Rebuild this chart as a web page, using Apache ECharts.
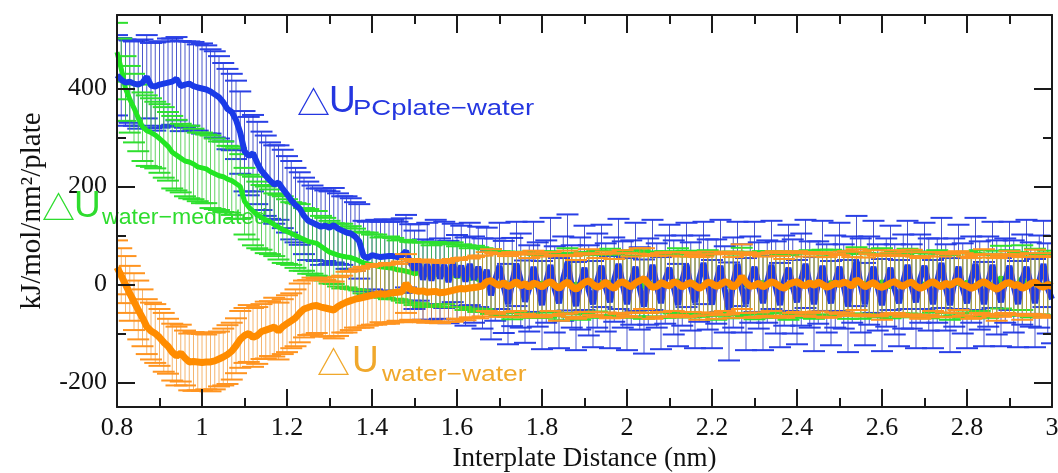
<!DOCTYPE html>
<html>
<head>
<meta charset="utf-8">
<script src="https://cdn.jsdelivr.net/npm/echarts@6/dist/echarts.min.js"></script>
<style>
html,body{margin:0;padding:0;background:#fff;}
#wrap{position:relative;width:1058px;height:473px;}
#chart{position:absolute;left:0;top:0;width:1058px;height:473px;}
#frame{position:absolute;left:0;top:0;width:1058px;height:473px;pointer-events:none;}
</style>
</head>
<body>
<div id="wrap"><div id="chart"></div><div id="frame"></div></div>
<script>
// sample grid: x from 0.80 to 3.00, step 0.01 (221 samples)
const X_START = 0.8;
const X_STEP = 0.01;

// ΔU PCplate-water (blue)
const blueU = [427,418,412,414,410,408,412,424,406,404,
408,410,412,414,420,405,408,410,405,402,
400,398,394,388,382,372,358,352,336,310,
272,262,268,248,232,222,212,204,208,195,
184,172,162,155,140,130,126,122,118,120,
116,121,114,110,106,104,98,88,58,54,
60,58,56,57,58,58,56,59,68,45,
30,45,10,42,8,46,12,40,5,44,
15,38,6,42,10,36,2,30,-22,10,
38,-5,-40,5,42,8,-35,-8,36,0,
-42,6,40,-10,-38,12,45,-4,-44,2,
34,-12,-40,8,38,-6,-36,10,42,0,
-40,4,36,-8,-45,6,40,-2,-38,10,
34,-6,-42,8,40,-4,-36,12,44,0,
-40,6,38,-10,-55,4,42,-8,-40,10,
36,-2,-38,6,40,-6,-42,8,34,-4,
-36,10,42,0,-40,4,38,-8,-38,6,
36,-4,-44,10,48,-2,-40,8,36,-6,
-42,4,34,-10,-38,6,40,-4,-36,12,
38,0,-40,8,44,-6,-42,4,36,-8,
-38,10,42,-2,-40,6,40,-6,-36,8,
38,-4,-40,10,36,0,-38,6,42,-8,
-30];
const blueErr = [82,85,88,84,86,90,88,85,87,90,
88,86,90,88,85,92,88,86,90,88,
92,90,86,88,84,80,82,78,80,84,
82,80,78,84,80,82,78,80,76,80,
78,80,76,74,78,80,76,74,78,72,
74,76,72,70,74,72,70,76,72,74,
70,74,72,76,70,74,72,76,74,78,
80,78,82,84,80,86,82,88,84,80,
86,82,90,84,88,82,92,86,90,84,
88,94,82,90,86,96,84,88,92,86,
90,84,96,88,92,86,98,84,90,94,
86,92,88,96,84,90,94,86,92,88,
94,86,90,84,96,88,92,86,94,90,
88,96,84,92,86,90,94,88,84,92,
90,86,94,88,100,92,86,90,94,88,
92,88,96,84,90,94,86,92,88,96,
86,94,90,88,96,84,92,90,86,94,
90,86,94,88,92,96,84,90,94,88,
94,90,86,92,88,96,90,86,94,90,
88,94,90,86,92,88,96,90,86,92,
92,88,94,90,86,92,88,96,90,86,
90,94,88,92,96,86,90,94,88,92,
90];

// ΔU water-mediated (green)
const greenU = [474,440,400,378,360,340,322,314,310,305,
298,290,282,270,264,258,252,250,246,240,
238,236,230,226,222,220,215,212,206,200,
170,158,150,142,137,132,128,122,117,112,
108,104,100,96,92,88,86,84,78,72,
66,63,60,58,56,55,52,48,44,42,
40,38,36,35,34,33,30,29,27,25,
22,24,20,22,18,21,19,22,18,20,
16,18,14,12,15,10,12,8,6,4,
2,5,0,-3,4,1,-2,3,0,-4,
3,-2,6,0,-5,2,8,-3,1,-6,
4,0,-4,7,2,-3,5,-1,3,-2,
0,6,-3,2,-6,4,1,-4,5,0,
-3,3,8,-2,1,-5,4,0,-2,6,
2,-4,0,5,-3,3,-1,7,-2,1,
-5,2,4,-1,6,0,-3,3,-6,2,
4,-2,1,6,-4,0,3,-3,5,-1,
0,5,-2,3,12,-4,2,-1,4,-3,
6,0,-5,2,3,-2,7,1,-4,3,
0,-3,5,2,-1,4,-6,1,3,-2,
5,0,-3,8,2,-4,1,3,15,-2,
4,-1,2,14,0,-3,5,1,-2,3,
0];
const greenErr = [60,62,66,68,70,68,70,72,70,68,
70,72,70,74,72,70,72,74,72,70,
72,70,74,72,70,72,68,70,72,66,
68,66,70,68,66,68,66,64,66,68,
66,64,66,68,64,66,64,66,62,64,
64,62,64,66,62,64,62,60,62,64,
62,64,60,62,64,62,60,62,64,62,
64,62,66,64,62,66,64,62,64,66,
62,64,66,62,64,66,62,64,66,64,
66,62,64,68,62,66,64,62,68,64,
64,66,62,64,68,62,66,64,62,66,
62,66,64,62,66,64,68,62,64,66,
66,64,62,68,64,62,66,64,62,68,
64,62,66,64,68,62,64,66,62,64,
62,68,64,62,66,64,62,68,64,66,
66,62,64,66,62,68,64,62,66,64,
64,66,62,64,66,62,68,64,66,62,
62,64,68,62,64,66,62,64,68,64,
68,62,64,66,62,64,66,68,62,64,
64,66,62,68,64,62,66,64,62,66,
62,64,66,62,68,64,62,66,64,62,
66,62,64,66,62,64,68,62,64,66,
64];

// ΔU water-water (orange)
const orangeU = [35,18,0,-18,-35,-52,-68,-86,-95,-100,
-108,-118,-126,-138,-146,-140,-150,-158,-157,-158,
-159,-158,-158,-156,-152,-148,-143,-136,-125,-112,
-104,-100,-108,-104,-96,-93,-90,-87,-95,-86,
-80,-74,-68,-58,-50,-47,-44,-43,-46,-48,
-50,-52,-45,-40,-36,-33,-30,-28,-26,-24,
-22,-20,-19,-20,-18,-17,-16,-15,2,-10,
-12,-14,-13,-16,-15,-14,-17,-16,-14,-12,
-10,-8,-9,-7,-6,-5,-3,6,8,2,
-2,4,-4,0,6,-3,2,-6,3,0,
-5,2,6,-2,-8,0,5,-4,-10,-3,
4,8,0,-6,-2,5,-3,-8,2,6,
0,-5,3,8,12,2,-6,-4,4,0,
-3,6,2,-5,0,4,-2,-8,-3,5,
2,-4,0,6,3,-6,2,16,4,-4,
-2,3,-5,0,6,2,-4,-8,0,4,
6,0,-3,4,-2,5,0,-6,-2,3,
0,5,2,-4,10,3,-5,0,4,-3,
-6,-2,3,6,0,-4,2,5,-3,-8,
-4,2,6,0,-5,3,-2,4,8,0,
-3,-8,-4,2,6,0,-5,-10,-4,2,
4,-2,0,-8,-4,2,5,-2,-6,0,
-4];
const orangeErr = [55,56,58,56,58,60,58,56,58,60,
58,60,56,58,60,58,56,58,60,58,
58,56,60,58,56,58,60,58,56,58,
56,58,60,58,56,58,56,60,58,56,
58,56,58,60,58,56,58,56,60,58,
56,58,60,58,62,60,58,60,62,60,
60,62,58,60,62,60,58,62,60,62,
62,60,64,62,60,64,62,60,62,64,
60,62,64,60,62,64,62,60,64,62,
64,60,62,66,60,64,62,60,66,62,
62,64,60,62,66,60,64,62,60,64,
60,64,62,60,64,62,66,60,62,64,
64,62,60,66,62,60,64,62,60,66,
62,60,64,62,66,60,62,64,60,62,
60,66,62,60,64,62,60,66,62,64,
64,60,62,64,60,66,62,60,64,62,
62,64,60,62,64,60,66,62,64,60,
60,62,66,60,62,64,60,62,66,62,
66,60,62,64,60,62,64,66,60,62,
62,64,60,66,62,60,64,62,60,64,
60,62,64,60,66,62,60,64,62,60,
64,60,62,64,60,62,66,60,62,64,
62];

// axis ranges and ticks
const xMin = 0.8, xMax = 3.0, xInterval = 0.2;
const yMin = -250, yMax = 550;
const yMajorTicks = [-200, 0, 200, 400];
const yMinorTicks = [-100, 100, 300];

function xAt(i){ return +(X_START + i * X_STEP).toFixed(2); }
function pairs(vals){ return vals.map((v,i)=>[xAt(i), v]); }
function triples(vals, errs){ return vals.map((v,i)=>[xAt(i), v, errs[i]]); }

function errRender(capColor, barColor, capHalf){
  return function(params, api){
    const x = api.value(0), y = api.value(1), e = api.value(2);
    const hi = api.coord([x, y + e]);
    const lo = api.coord([x, y - e]);
    return {
      type: 'group',
      children: [
        {type:'line', shape:{x1:hi[0],y1:hi[1],x2:lo[0],y2:lo[1]}, style:{stroke:barColor,lineWidth:1}},
        {type:'line', shape:{x1:hi[0]-capHalf,y1:hi[1],x2:hi[0]+capHalf,y2:hi[1]}, style:{stroke:capColor,lineWidth:2}},
        {type:'line', shape:{x1:lo[0]-capHalf,y1:lo[1],x2:lo[0]+capHalf,y2:lo[1]}, style:{stroke:capColor,lineWidth:2}}
      ]
    };
  };
}

const AX = '#1a1a1a';
const serif = '"Liberation Serif", "Times New Roman", serif';
const sans = '"Liberation Sans", Arial, sans-serif';
const GRID = {left:117, top:15, right:6, bottom:66, outerBoundsMode:'none'};

function forceRefresh(inst){
  try {
    inst.getZr().storage.getDisplayList(true);
    inst.getZr().refreshImmediately();
  } catch(e) {}
}

// ---- data chart (labels, titles, series) ----
const chart = echarts.init(document.getElementById('chart'), null, {renderer:'canvas'});
chart.setOption({
  backgroundColor:'#ffffff',
  animation:false,
  grid:GRID,
  xAxis:[{type:'value', min:xMin, max:xMax, interval:xInterval, position:'bottom',
    axisLine:{show:false, onZero:false}, axisTick:{show:false}, splitLine:{show:false},
    name:'Interplate Distance (nm)', nameLocation:'middle', nameGap:38,
    nameTextStyle:{fontFamily:serif, fontSize:27, color:'#111'},
    axisLabel:{show:true, margin:8, fontFamily:serif, fontSize:26, color:'#111'}}],
  yAxis:[{type:'value', min:yMin, max:yMax, position:'left',
    axisLine:{show:false, onZero:false}, axisTick:{show:false}, splitLine:{show:false},
    name:'kJ/mol/nm²/plate', nameLocation:'middle', nameRotate:90, nameGap:70,
    nameTextStyle:{fontFamily:serif, fontSize:29, color:'#111'},
    axisLabel:{show:true, margin:10, fontFamily:serif, fontSize:26, color:'#111', customValues:yMajorTicks}}],
  graphic:[
    {type:'text', z:1, x:297, y:102, style:{text:'△', font:'33px "Noto Sans CJK JP"', fill:'#2436e0', verticalAlign:'middle'}},
    {type:'text', z:1, x:329, y:101.5, style:{text:'U', font:'37px '+sans, fill:'#2436e0', verticalAlign:'middle'}},
    {type:'text', z:1, x:353, y:108.5, scaleX:1.25, style:{text:'PCplate−water', font:'22px '+sans, fill:'#2436e0', verticalAlign:'middle'}},
    {type:'text', z:1, x:42, y:207, style:{text:'△', font:'33px "Noto Sans CJK JP"', fill:'#2edc2e', verticalAlign:'middle'}},
    {type:'text', z:1, x:74, y:206.5, style:{text:'U', font:'37px '+sans, fill:'#2edc2e', verticalAlign:'middle'}},
    {type:'text', z:1, x:102, y:217.5, scaleX:1.05, style:{text:'water−mediated', font:'22px '+sans, fill:'#2edc2e', verticalAlign:'middle'}},
    {type:'text', z:1, x:317, y:362.5, style:{text:'△', font:'33px "Noto Sans CJK JP"', fill:'#f0a82c', verticalAlign:'middle'}},
    {type:'text', z:1, x:352, y:361.5, style:{text:'U', font:'37px '+sans, fill:'#f0a82c', verticalAlign:'middle'}},
    {type:'text', z:1, x:382, y:374.5, scaleX:1.2, style:{text:'water−water', font:'22px '+sans, fill:'#f0a82c', verticalAlign:'middle'}}
  ],
  series:[
    {type:'custom', name:'blueErr', z:2, clip:true, renderItem:errRender('#2a40e6','rgba(30,45,190,0.8)',11),
      encode:{x:0,y:1}, data:triples(blueU, blueErr)},
    {type:'custom', name:'greenErr', z:3, clip:true, renderItem:errRender('#2ee02e','rgba(60,200,60,0.8)',11),
      encode:{x:0,y:1}, data:triples(greenU, greenErr)},
    {type:'line', name:'green', z:4, showSymbol:false, symbol:'none', clip:true,
      lineStyle:{color:'#22e622', width:5}, data:pairs(greenU)},
    {type:'line', name:'blue', z:5, showSymbol:false, symbol:'none', clip:true,
      lineStyle:{color:'#1a3ae8', width:6}, data:pairs(blueU)},
    {type:'custom', name:'orangeErr', z:6, clip:true, renderItem:errRender('#ff9420','rgba(240,150,50,0.7)',11),
      encode:{x:0,y:1}, data:triples(orangeU, orangeErr)},
    {type:'line', name:'orange', z:7, showSymbol:false, symbol:'none', clip:true,
      lineStyle:{color:'#ff8c00', width:7}, data:pairs(orangeU)}
  ]
});
forceRefresh(chart);

// ---- frame chart (box and inward ticks on all four sides), same grid and scales ----
const frame = echarts.init(document.getElementById('frame'), null, {renderer:'canvas'});
const fx = {type:'value', min:xMin, max:xMax, interval:xInterval,
  axisLine:{show:true, onZero:false, lineStyle:{color:AX, width:2}},
  axisTick:{show:true, inside:true, length:18, lineStyle:{color:AX, width:2}},
  minorTick:{show:true, splitNumber:2, length:9, lineStyle:{color:AX, width:2}},
  axisLabel:{show:false}, splitLine:{show:false}};
const fy = {type:'value', min:yMin, max:yMax,
  axisLine:{show:true, onZero:false, lineStyle:{color:AX, width:2}},
  splitLine:{show:false}};
frame.setOption({
  animation:false,
  grid:GRID,
  xAxis:[Object.assign({}, fx, {position:'bottom'}), Object.assign({}, fx, {position:'top'})],
  yAxis:[
    Object.assign({}, fy, {position:'left',
      axisTick:{show:true, inside:true, length:18, lineStyle:{color:AX, width:2}, customValues:yMajorTicks},
      axisLabel:{show:false, customValues:yMajorTicks}}),
    Object.assign({}, fy, {position:'left', axisLine:{show:false},
      axisTick:{show:true, inside:true, length:9, lineStyle:{color:AX, width:2}, customValues:yMinorTicks},
      axisLabel:{show:false, customValues:yMinorTicks}}),
    Object.assign({}, fy, {position:'right',
      axisTick:{show:true, inside:true, length:18, lineStyle:{color:AX, width:2}, customValues:yMajorTicks},
      axisLabel:{show:false, customValues:yMajorTicks}}),
    Object.assign({}, fy, {position:'right', axisLine:{show:false},
      axisTick:{show:true, inside:true, length:9, lineStyle:{color:AX, width:2}, customValues:yMinorTicks},
      axisLabel:{show:false, customValues:yMinorTicks}})
  ],
  series:[]
});
forceRefresh(frame);
</script>
</body>
</html>
